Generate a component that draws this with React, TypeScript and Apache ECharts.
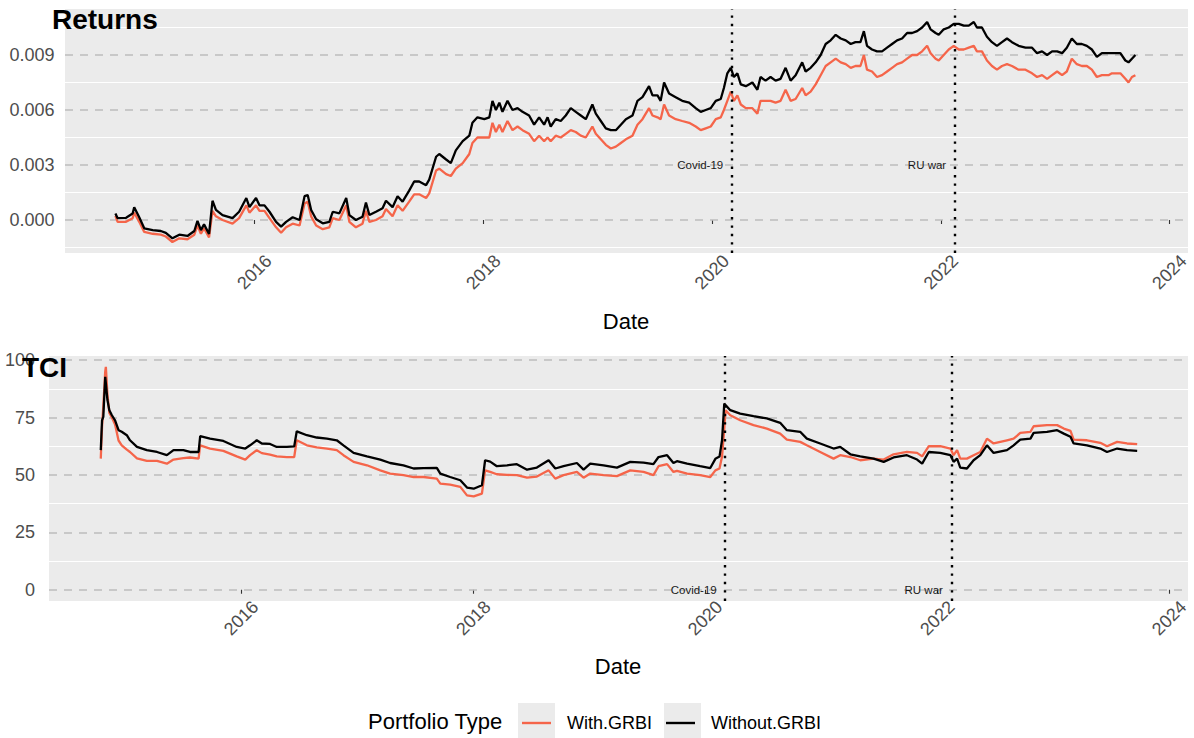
import { useEffect, useRef } from "react";
import * as echarts from "echarts";

// ---- Returns panel (readings for the two portfolios) ----
const returnsDates = [
  "2014-10-14", "2014-10-21", "2014-11-17", "2014-12-08", "2014-12-13", "2014-12-29",
  "2015-01-14", "2015-02-10", "2015-03-08", "2015-03-24", "2015-04-14", "2015-05-06",
  "2015-06-01", "2015-06-23", "2015-07-03", "2015-07-14", "2015-07-24", "2015-08-09",
  "2015-08-20", "2015-08-31", "2015-09-21", "2015-10-23", "2015-11-13", "2015-12-06",
  "2015-12-16", "2016-01-06", "2016-01-17", "2016-02-02", "2016-02-18", "2016-03-10",
  "2016-03-26", "2016-04-11", "2016-05-02", "2016-05-24", "2016-06-09", "2016-06-19",
  "2016-06-30", "2016-07-16", "2016-08-06", "2016-08-27", "2016-09-07", "2016-09-28",
  "2016-10-20", "2016-10-30", "2016-11-20", "2016-12-11", "2016-12-22", "2017-01-02",
  "2017-01-23", "2017-02-13", "2017-02-24", "2017-03-17", "2017-04-02", "2017-04-18",
  "2017-05-09", "2017-05-25", "2017-06-10", "2017-07-02", "2017-07-12", "2017-08-03",
  "2017-08-13", "2017-09-04", "2017-09-19", "2017-10-05", "2017-10-27", "2017-11-17",
  "2017-11-27", "2017-12-13", "2018-01-04", "2018-01-20", "2018-01-30", "2018-02-10",
  "2018-02-21", "2018-03-03", "2018-03-19", "2018-04-04", "2018-04-20", "2018-05-06",
  "2018-05-27", "2018-06-12", "2018-06-28", "2018-07-14", "2018-07-25", "2018-08-04",
  "2018-08-20", "2018-09-05", "2018-09-21", "2018-10-07", "2018-10-23", "2018-11-08",
  "2018-11-24", "2018-12-15", "2018-12-26", "2019-01-11", "2019-01-27", "2019-02-12",
  "2019-02-28", "2019-03-16", "2019-04-01", "2019-04-22", "2019-05-08", "2019-05-24",
  "2019-06-14", "2019-06-25", "2019-07-11", "2019-07-21", "2019-08-01", "2019-08-17",
  "2019-09-07", "2019-09-28", "2019-10-20", "2019-11-10", "2019-11-26", "2019-12-12",
  "2019-12-28", "2020-01-13", "2020-01-29", "2020-02-08", "2020-02-19", "2020-03-01",
  "2020-03-11", "2020-03-22", "2020-04-02", "2020-04-18", "2020-05-09", "2020-05-25",
  "2020-06-04", "2020-06-20", "2020-07-06", "2020-07-22", "2020-08-07", "2020-08-23",
  "2020-09-08", "2020-09-24", "2020-10-15", "2020-10-26", "2020-11-11", "2020-11-27",
  "2020-12-13", "2020-12-29", "2021-01-14", "2021-01-30", "2021-02-15", "2021-03-03",
  "2021-03-19", "2021-04-03", "2021-04-19", "2021-04-30", "2021-05-10", "2021-05-26",
  "2021-06-11", "2021-06-27", "2021-07-13", "2021-07-29", "2021-08-14", "2021-08-30",
  "2021-09-15", "2021-10-01", "2021-10-17", "2021-11-02", "2021-11-18", "2021-11-29",
  "2021-12-15", "2021-12-25", "2022-01-10", "2022-01-26", "2022-02-11", "2022-02-27",
  "2022-03-15", "2022-03-31", "2022-04-16", "2022-04-26", "2022-05-12", "2022-05-28",
  "2022-06-13", "2022-06-29", "2022-07-15", "2022-07-31", "2022-08-16", "2022-09-06",
  "2022-09-28", "2022-10-19", "2022-11-04", "2022-11-20", "2022-12-06", "2022-12-22",
  "2023-01-07", "2023-01-23", "2023-02-07", "2023-02-23", "2023-03-11", "2023-03-27",
  "2023-04-12", "2023-04-28", "2023-05-14", "2023-05-30", "2023-06-20", "2023-07-01",
  "2023-07-28", "2023-08-13", "2023-08-23", "2023-09-03", "2023-09-14",
];

const returnsWithoutGRBI = [
  0.00036, 0.0001, 0.00012, 0.00035, 0.0007, 0.00015,
  -0.00045, -0.00055, -0.0006, -0.0007, -0.001, -0.0008,
  -0.00087, -0.0006, -0.00005, -0.00055, -0.00024, -0.00076,
  0.00105, 0.00055, 0.00027, 0.0001, 0.00045, 0.0012,
  0.0007, 0.0012, 0.0008, 0.0008, 0.00045, -0.0001,
  -0.00036, -0.0001, 0.00015, 0.0, 0.0013, 0.00136,
  0.00055, 0.00004, -0.00018, -0.0001, 0.00045, 0.00036,
  0.0012, 0.00027, 0.0, 0.00018, 0.00095, 0.00027,
  0.00045, 0.00064, 0.00105, 0.0007, 0.0013, 0.001,
  0.0016, 0.0021, 0.0021, 0.0019, 0.0022, 0.00345,
  0.0036, 0.0033, 0.0031, 0.0038, 0.0043, 0.0046,
  0.0053, 0.0056, 0.0055, 0.0056, 0.0065, 0.006,
  0.0064, 0.0059, 0.0065, 0.006, 0.0061, 0.0059,
  0.0057, 0.0052, 0.0056, 0.0052, 0.0056, 0.0051,
  0.0055, 0.0054, 0.0057, 0.0061, 0.0059, 0.0057,
  0.0055, 0.0063, 0.0058, 0.0054, 0.005, 0.0049,
  0.0049, 0.0052, 0.0055, 0.0057, 0.0065, 0.0067,
  0.0073, 0.0068, 0.0068, 0.0065, 0.0075, 0.0069,
  0.0067, 0.0065, 0.0064, 0.0061, 0.0059, 0.006,
  0.0061, 0.0065, 0.0066, 0.0072, 0.008, 0.0083,
  0.0078, 0.008, 0.0074, 0.0073, 0.0075, 0.0071,
  0.0078, 0.0076, 0.0078, 0.0076, 0.0077, 0.0083,
  0.0076, 0.0079, 0.0086, 0.0081, 0.0083, 0.0086,
  0.009, 0.0096, 0.0098, 0.0101, 0.0099, 0.0098,
  0.0096, 0.0097, 0.0097, 0.0103, 0.0095, 0.0093,
  0.0092, 0.0092, 0.0094, 0.0096, 0.0098, 0.0099,
  0.0102, 0.0102, 0.0103, 0.0105, 0.0108, 0.0104,
  0.0102, 0.0101, 0.0104, 0.0105, 0.0107, 0.0107,
  0.0106, 0.0106, 0.0108, 0.0105, 0.0105, 0.01,
  0.0097, 0.0095, 0.0097, 0.0099, 0.0097, 0.0095,
  0.0094, 0.0094, 0.0091, 0.0092, 0.009, 0.0092,
  0.0092, 0.0091, 0.0094, 0.0099, 0.0096, 0.0096,
  0.0095, 0.0093, 0.0089, 0.0091, 0.0091, 0.0091,
  0.0091, 0.0087, 0.0086, 0.0088, 0.009,
];

const returnsWithGRBI = [
  0.00022, -0.0001, -0.0001, 0.0001, 0.0004, -0.0001,
  -0.00065, -0.00075, -0.0008, -0.0009, -0.0012, -0.001,
  -0.00105, -0.0008, -0.0003, -0.00075, -0.00045, -0.00095,
  0.0005, 0.0002, 0.0, -0.0002, 0.0001, 0.0008,
  0.0004, 0.0008, 0.0005, 0.0005, 0.0001, -0.0004,
  -0.0007, -0.0004, -0.0002, -0.0003, 0.0009, 0.001,
  0.0002, -0.0003, -0.0005, -0.0004, 0.0001, 0.0,
  0.0008, -0.0001, -0.0004, -0.0002, 0.0005, -0.0001,
  0.0, 0.0002, 0.0006, 0.0002, 0.0008, 0.0005,
  0.001, 0.0014, 0.0014, 0.0012, 0.00145, 0.0027,
  0.0028, 0.0025, 0.0024, 0.0028, 0.0031, 0.0036,
  0.0042, 0.0045, 0.0045, 0.0045, 0.0053, 0.0048,
  0.0052, 0.0048, 0.0054, 0.0049, 0.0051, 0.0049,
  0.0047, 0.0043, 0.0046, 0.0043, 0.0045, 0.0043,
  0.0046, 0.0045, 0.0047, 0.0049, 0.0048, 0.0046,
  0.0045, 0.0051, 0.0047, 0.0044, 0.0041, 0.0039,
  0.004, 0.0042, 0.0044, 0.0046, 0.0052, 0.0055,
  0.0061, 0.0057, 0.0056, 0.0055, 0.0063, 0.0057,
  0.0055, 0.0054, 0.0053, 0.0051, 0.0049, 0.005,
  0.0051, 0.0055, 0.0056, 0.006, 0.0065, 0.007,
  0.0065, 0.0068, 0.0063, 0.0061, 0.0061, 0.0058,
  0.0065, 0.0065, 0.0065, 0.0064, 0.0065, 0.0071,
  0.0065, 0.0066, 0.0072, 0.0068, 0.007, 0.0074,
  0.0079, 0.0084, 0.0086, 0.0088, 0.0086, 0.0085,
  0.0083, 0.0084, 0.0084, 0.009, 0.0082, 0.0081,
  0.0078, 0.0079, 0.0081, 0.0083, 0.0085, 0.0086,
  0.0088, 0.009, 0.009, 0.0092, 0.0095, 0.0091,
  0.0088, 0.0087, 0.009, 0.0093, 0.0095, 0.0093,
  0.0093, 0.0094, 0.0095, 0.0092, 0.0092, 0.0087,
  0.0084, 0.0082, 0.0084, 0.0085, 0.0084, 0.0082,
  0.0082, 0.008, 0.0078, 0.0079, 0.0077, 0.0079,
  0.0081, 0.0079, 0.0081, 0.0088, 0.0085, 0.0084,
  0.0084, 0.0082, 0.0078, 0.0079, 0.0079, 0.008,
  0.008, 0.0077, 0.0075, 0.0078, 0.0079,
];

// ---- TCI panel ----
const tciDates = [
  "2014-10-16", "2014-10-20", "2014-10-24", "2014-10-30", "2014-11-01", "2014-11-06",
  "2014-11-12", "2014-11-20", "2014-11-30", "2014-12-11", "2014-12-21", "2015-01-06",
  "2015-01-16", "2015-02-07", "2015-03-10", "2015-04-11", "2015-05-12", "2015-06-02",
  "2015-07-03", "2015-07-24", "2015-08-20", "2015-08-25", "2015-09-25", "2015-11-06",
  "2015-12-18", "2016-01-14", "2016-01-29", "2016-02-19", "2016-03-06", "2016-04-01",
  "2016-04-22", "2016-05-24", "2016-06-16", "2016-06-24", "2016-07-26", "2016-08-26",
  "2016-09-27", "2016-10-28", "2016-11-18", "2016-12-20", "2017-01-31", "2017-03-14",
  "2017-04-14", "2017-05-26", "2017-06-27", "2017-07-28", "2017-09-08", "2017-09-19",
  "2017-10-20", "2017-11-21", "2017-12-12", "2018-01-02", "2018-01-28", "2018-02-07",
  "2018-02-23", "2018-03-16", "2018-04-17", "2018-05-18", "2018-06-19", "2018-07-20",
  "2018-08-26", "2018-09-16", "2018-10-12", "2018-11-23", "2018-12-14", "2019-01-04",
  "2019-02-15", "2019-03-29", "2019-05-10", "2019-06-21", "2019-07-22", "2019-08-07",
  "2019-09-03", "2019-09-23", "2019-10-04", "2019-11-05", "2019-12-16", "2020-01-17",
  "2020-02-02", "2020-02-15", "2020-02-23", "2020-03-01", "2020-03-05", "2020-03-20",
  "2020-04-20", "2020-06-01", "2020-07-13", "2020-08-24", "2020-09-14", "2020-10-26",
  "2020-11-16", "2020-12-28", "2021-02-08", "2021-03-01", "2021-04-02", "2021-05-03",
  "2021-06-14", "2021-07-16", "2021-08-16", "2021-09-27", "2021-10-29", "2021-11-14",
  "2021-12-05", "2022-01-10", "2022-02-11", "2022-02-21", "2022-03-04", "2022-03-14",
  "2022-04-04", "2022-04-25", "2022-05-16", "2022-06-06", "2022-06-27", "2022-08-08",
  "2022-08-29", "2022-09-19", "2022-10-21", "2022-10-31", "2022-12-12", "2023-01-13",
  "2023-02-03", "2023-02-24", "2023-03-06", "2023-04-17", "2023-05-29", "2023-06-19",
  "2023-07-21", "2023-08-21", "2023-09-22",
];

const tciWithoutGRBI = [
  60.8, 73.8, 75.3, 92.7, 90.0, 82.6,
  78.2, 76.0, 73.8, 69.5, 68.8, 67.3,
  65.1, 62.2, 60.8, 60.0, 58.6, 60.8,
  60.8, 60.0, 60.0, 66.9, 65.8, 64.8,
  62.2, 61.5, 62.9, 65.1, 63.7, 63.5,
  62.2, 62.2, 62.4, 69.0, 67.3, 66.3,
  65.8, 65.1, 62.9, 59.6, 58.1, 56.7,
  55.2, 54.2, 52.8, 53.0, 53.1, 50.6,
  49.1, 47.7, 44.5, 44.0, 45.5, 56.4,
  55.8, 53.8, 54.2, 54.7, 52.3, 53.2,
  56.4, 52.8, 53.8, 55.2, 52.3, 54.9,
  54.2, 53.2, 55.7, 55.4, 54.7, 57.8,
  58.6, 55.2, 56.0, 54.9, 53.8, 53.0,
  57.0, 58.0, 65.1, 81.1, 80.4, 78.2,
  76.7, 75.6, 74.6, 72.7, 69.5, 68.8,
  65.8, 63.7, 61.5, 62.2, 59.0, 58.1,
  57.1, 55.7, 57.6, 58.6, 56.7, 54.9,
  60.0, 59.6, 58.6, 55.7, 57.1, 53.2,
  52.8, 56.4, 58.6, 62.9, 59.6, 60.8,
  62.9, 65.4, 65.8, 68.3, 68.8, 69.5,
  68.0, 66.6, 63.7, 62.9, 61.5, 60.0,
  61.5, 60.8, 60.5,
];

const tciWithGRBI = [
  57.1, 70.9, 80.0, 95.0, 97.1, 85.0,
  77.0, 75.0, 72.0, 65.0, 62.9, 61.0,
  60.0, 57.2, 56.1, 56.1, 54.9, 56.7,
  57.3, 57.6, 57.1, 62.9, 61.5, 60.5,
  58.1, 56.7, 58.6, 60.8, 59.5, 58.8,
  58.1, 57.8, 57.8, 65.1, 62.9, 62.0,
  61.5, 60.8, 58.6, 55.7, 54.2, 52.0,
  50.6, 49.9, 49.1, 49.1, 48.4, 46.2,
  45.8, 44.8, 41.1, 40.7, 41.9, 52.0,
  51.3, 50.3, 50.0, 49.9, 48.8, 49.3,
  52.0, 48.4, 49.9, 51.3, 48.8, 50.6,
  49.9, 49.5, 52.0, 51.3, 49.9, 53.8,
  54.7, 51.3, 51.8, 50.6, 49.9, 49.1,
  52.0, 52.8, 58.0, 70.0, 78.2, 76.0,
  73.8, 71.7, 70.2, 68.0, 65.4, 64.4,
  62.9, 60.0, 57.1, 58.6, 57.8, 56.4,
  57.1, 56.7, 59.0, 60.0, 59.6, 58.1,
  62.5, 62.5, 61.5, 58.6, 60.8, 57.1,
  57.1, 58.6, 60.0, 65.8, 63.7, 65.1,
  65.8, 68.3, 68.8, 71.2, 71.7, 71.7,
  70.2, 69.2, 65.4, 65.1, 64.0, 62.5,
  64.4, 63.7, 63.4,
];

// ---- axes, gridlines and annotations ----
const xRange = ["2014-05-06", "2024-02-29"];
const yearTicks = [2016, 2018, 2020, 2022, 2024];
const returnsRange = [-0.0018, 0.01151];
const returnsTicks = [0, 0.003, 0.006, 0.009];
const returnsMinorGrid = [-0.0015, 0.0015, 0.0045, 0.0075, 0.0105];
const tciRange = [-4.9, 101.8];
const tciTicks = [0, 25, 50, 75, 100];
const tciMinorGrid = [12.5, 37.5, 62.5, 87.5];
const events = [
  { name: "Covid-19", date: "2020-03-04" },
  { name: "RU war", date: "2022-02-14" },
];
const seriesNames = ["With.GRBI", "Without.GRBI"];
const seriesColors = ["#F5654A", "#000000"];

const FONT = '"Liberation Sans", Arial, Helvetica, sans-serif';
const PANEL_BG = "#EBEBEB";

function toTime(s: string): number {
  const [y, m, d] = s.split("-").map(Number);
  return new Date(y, m - 1, d).getTime();
}

function pairs(dates: string[], values: number[]) {
  return dates.map((d, i) => [toTime(d), values[i]]);
}

const yearTickTimes = yearTicks.map((y) => new Date(y, 0, 1).getTime());

function gridLines(major: number[], minor: number[]) {
  return [
    ...minor.map((v) => ({
      yAxis: v,
      lineStyle: { color: "#FFFFFF", width: 1.1, type: "solid" },
    })),
    ...major.map((v) => ({
      yAxis: v,
      lineStyle: { color: "#BDBDBD", width: 1.6, type: [8, 7] },
    })),
  ];
}

function panelSeries(
  idx: number,
  dates: string[],
  withVals: number[],
  withoutVals: number[],
  major: number[],
  minor: number[],
  labelY: number
) {
  const common = {
    type: "line",
    xAxisIndex: idx,
    yAxisIndex: idx,
    showSymbol: false,
    symbol: "none",
    silent: true,
    emphasis: { disabled: true },
    z: 3,
  };
  return [
    {
      ...common,
      name: seriesNames[0],
      data: pairs(dates, withVals),
      color: seriesColors[0],
      lineStyle: { color: seriesColors[0], width: 2.3 },
      markLine: {
        silent: true,
        z: 1,
        precision: 10,
        symbol: ["none", "none"],
        label: { show: false },
        emphasis: { disabled: true },
        data: gridLines(major, minor),
      },
    },
    {
      ...common,
      name: seriesNames[1],
      data: pairs(dates, withoutVals),
      color: seriesColors[1],
      lineStyle: { color: seriesColors[1], width: 2.3 },
      markLine: {
        silent: true,
        z: 6,
        precision: 10,
        symbol: ["none", "none"],
        label: { show: false },
        emphasis: { disabled: true },
        lineStyle: { color: "#000000", width: 2.4, type: [2.4, 6] },
        data: events.map((e) => ({ xAxis: toTime(e.date) })),
      },
      markPoint: {
        silent: true,
        z: 6,
        symbol: "circle",
        symbolSize: 1,
        itemStyle: { color: "rgba(0,0,0,0)" },
        label: {
          show: true,
          position: "left",
          distance: 8,
          fontSize: 11.5,
          fontFamily: FONT,
          color: "#1A1A1A",
          formatter: (p: any) => p.name,
        },
        data: events.map((e) => ({
          name: e.name,
          coord: [toTime(e.date), labelY],
        })),
      },
    },
  ];
}

// Dates are plotted as timestamps on a numeric axis so the year ticks can be placed exactly.
function xAxisFor(gridIndex: number, margin: number) {
  return {
    type: "value",
    gridIndex,
    min: toTime(xRange[0]),
    max: toTime(xRange[1]),
    axisLine: { show: false },
    splitLine: { show: false },
    axisTick: {
      show: true,
      length: 4,
      lineStyle: { color: "#333333", width: 1.1 },
      customValues: yearTickTimes,
    },
    axisLabel: {
      customValues: yearTickTimes,
      formatter: (v: number) => String(new Date(v).getFullYear()),
      rotate: 45,
      align: "center",
      verticalAlign: "middle",
      margin,
      fontSize: 18,
      fontFamily: FONT,
      color: "#4D4D4D",
    },
  };
}

function yAxisFor(
  gridIndex: number,
  range: number[],
  ticks: number[],
  fmt: (v: number) => string,
  margin: number
) {
  return {
    type: "value",
    gridIndex,
    min: range[0],
    max: range[1],
    axisLine: { show: false },
    axisTick: { show: false },
    splitLine: { show: false },
    axisLabel: {
      customValues: ticks,
      formatter: fmt,
      margin,
      fontSize: 18,
      fontFamily: FONT,
      color: "#4D4D4D",
    },
  };
}

function buildOption() {
  return {
    animation: false,
    backgroundColor: "#FFFFFF",
    textStyle: { fontFamily: FONT },
    grid: [
      {
        left: 65,
        right: 6,
        top: 9,
        height: 244,
        show: true,
        backgroundColor: PANEL_BG,
        borderWidth: 0,
        outerBoundsMode: "none",
      },
      {
        left: 49,
        right: 6,
        top: 356,
        height: 245,
        show: true,
        backgroundColor: PANEL_BG,
        borderWidth: 0,
        outerBoundsMode: "none",
      },
    ],
    xAxis: [xAxisFor(0, 19), xAxisFor(1, 17)],
    yAxis: [
      yAxisFor(0, returnsRange, returnsTicks, (v) => v.toFixed(3), 10.5),
      yAxisFor(1, tciRange, tciTicks, (v) => String(v), 14),
    ],
    legend: {
      data: seriesNames,
      left: 522,
      top: 714,
      padding: 0,
      icon: "rect",
      itemWidth: 29,
      itemHeight: 2.4,
      itemGap: 14,
      selectedMode: false,
      textStyle: {
        fontSize: 18,
        fontFamily: FONT,
        color: "#000000",
        padding: [0, 0, 0, 11],
      },
    },
    graphic: [
      {
        type: "rect",
        z: 1,
        shape: { x: 518, y: 703, width: 37, height: 35 },
        style: { fill: PANEL_BG },
        silent: true,
      },
      {
        type: "rect",
        z: 1,
        shape: { x: 664, y: 703, width: 37, height: 35 },
        style: { fill: PANEL_BG },
        silent: true,
      },
      {
        type: "text",
        z: 100,
        x: 52,
        y: 19,
        style: {
          text: "Returns",
          fontSize: 28,
          fontWeight: "bold",
          fontFamily: FONT,
          fill: "#000000",
          verticalAlign: "middle",
        },
      },
      {
        type: "text",
        z: 100,
        x: 22,
        y: 367,
        style: {
          text: "TCI",
          fontSize: 28,
          fontWeight: "bold",
          fontFamily: FONT,
          fill: "#000000",
          verticalAlign: "middle",
        },
      },
      {
        type: "text",
        z: 100,
        x: 626,
        y: 321,
        style: {
          text: "Date",
          fontSize: 22,
          fontFamily: FONT,
          fill: "#000000",
          align: "center",
          verticalAlign: "middle",
        },
      },
      {
        type: "text",
        z: 100,
        x: 618,
        y: 666,
        style: {
          text: "Date",
          fontSize: 22,
          fontFamily: FONT,
          fill: "#000000",
          align: "center",
          verticalAlign: "middle",
        },
      },
      {
        type: "text",
        z: 100,
        x: 368,
        y: 721,
        style: {
          text: "Portfolio Type",
          fontSize: 22,
          fontFamily: FONT,
          fill: "#000000",
          verticalAlign: "middle",
        },
      },
    ],
    series: [
      ...panelSeries(
        0,
        returnsDates,
        returnsWithGRBI,
        returnsWithoutGRBI,
        returnsTicks,
        returnsMinorGrid,
        0.003
      ),
      ...panelSeries(
        1,
        tciDates,
        tciWithGRBI,
        tciWithoutGRBI,
        tciTicks,
        tciMinorGrid,
        0
      ),
    ],
  };
}

export default function App() {
  const ref = useRef<HTMLDivElement>(null);

  useEffect(() => {
    if (!ref.current) return;
    const chart = echarts.init(ref.current, null, { renderer: "svg" });
    chart.setOption(buildOption() as any);
    return () => chart.dispose();
  }, []);

  return (
    <div
      ref={ref}
      style={{
        position: "fixed",
        left: 0,
        top: 0,
        width: 1194,
        height: 738,
        background: "#FFFFFF",
      }}
    />
  );
}
